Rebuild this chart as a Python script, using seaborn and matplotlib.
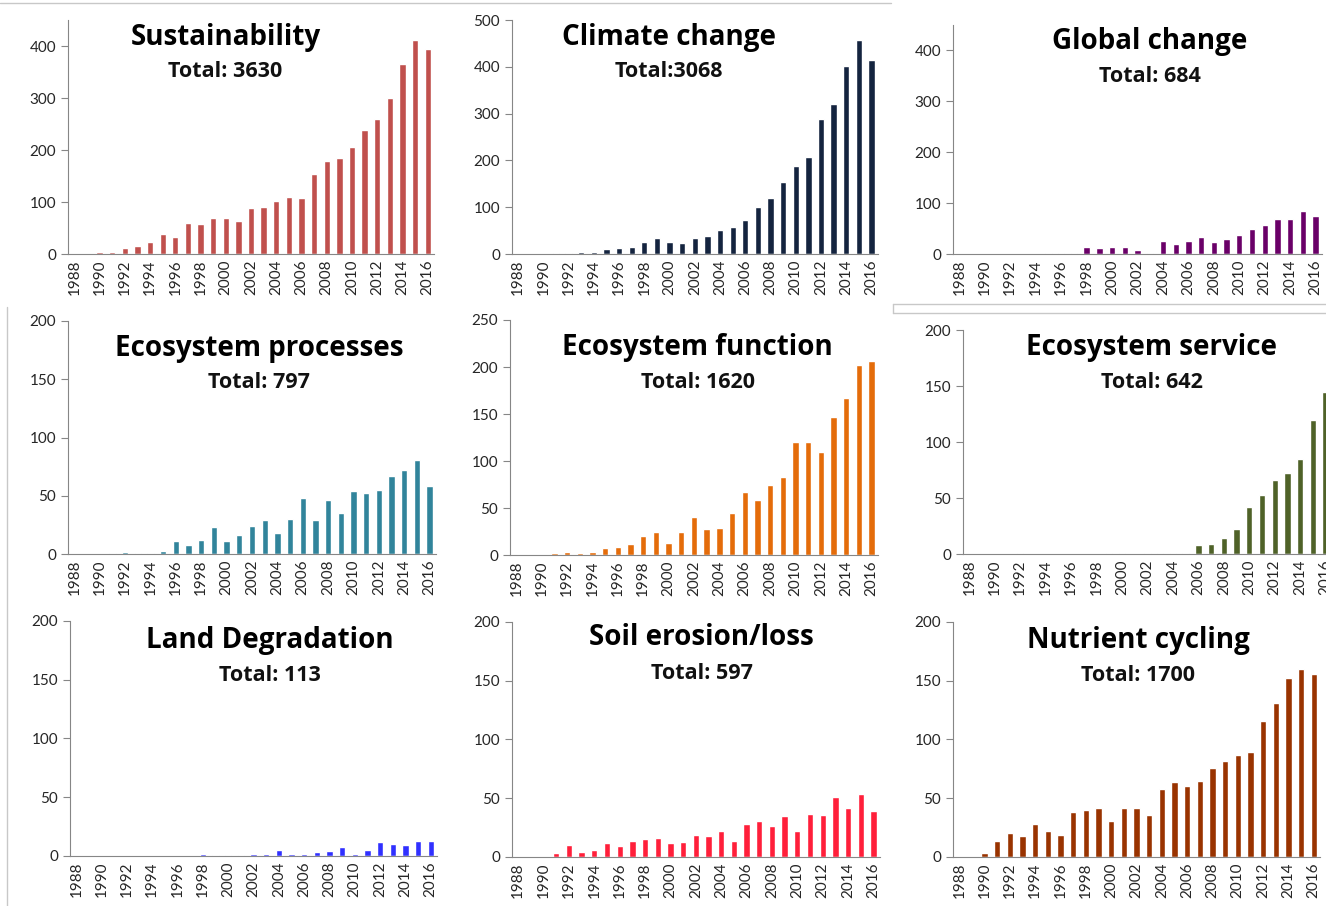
import numpy as np
import matplotlib
matplotlib.use("Agg")
import matplotlib.pyplot as plt
from matplotlib.lines import Line2D
import seaborn as sns

years = [str(y) for y in range(1988, 2017)]

sustainability = [0, 0, 3, 3, 12, 15, 24, 38, 32, 60, 57, 69, 69, 64, 88, 90, 102, 109, 107,
                  154, 178, 185, 206, 239, 260, 300, 365, 412, 395]
climate_change = [0, 0, 0, 3, 3, 5, 5, 10, 13, 15, 26, 34, 26, 24, 34, 39, 52, 57, 73,
                  101, 120, 154, 188, 208, 289, 320, 401, 458, 414]
global_change = [0, 0, 0, 0, 0, 0, 0, 3, 3, 3, 13, 11, 13, 13, 8, 3, 25, 20, 25,
                 33, 23, 30, 38, 50, 57, 69, 69, 84, 74]
eco_processes = [0, 0, 0, 1, 2, 1, 1, 3, 11, 8, 12, 23, 11, 16, 24, 29, 18, 30, 48,
                 29, 46, 35, 54, 52, 55, 67, 72, 81, 58]
eco_function = [0, 0, 0, 2, 3, 2, 3, 7, 8, 12, 20, 25, 13, 24, 40, 28, 29, 45, 67,
                58, 74, 83, 120, 120, 110, 147, 167, 202, 206]
eco_service = [0, 0, 0, 0, 1, 0, 0, 0, 0, 0, 0, 1, 1, 0, 1, 1, 1, 1, 8,
               9, 14, 22, 42, 53, 66, 72, 85, 120, 145]
land_degradation = [0, 0, 0, 0, 0, 0, 0, 0, 0, 0, 2, 1, 1, 1, 2, 2, 5, 2, 2,
                    3, 4, 8, 2, 5, 12, 10, 9, 13, 13]
soil_erosion = [0, 0, 0, 3, 10, 4, 6, 12, 9, 14, 15, 16, 12, 13, 19, 18, 22, 14, 28,
                31, 26, 35, 22, 37, 36, 51, 42, 54, 39]
nutrient_cycling = [0, 0, 3, 14, 20, 18, 28, 22, 19, 38, 40, 42, 31, 42, 42, 36, 58, 64, 60,
                    65, 76, 82, 87, 89, 116, 131, 152, 160, 156]

titles = ["Sustainability", "Climate change", "Global change",
          "Ecosystem processes", "Ecosystem function", "Ecosystem service",
          "Land Degradation", "Soil erosion/loss", "Nutrient cycling"]
totals = ["Total: 3630", "Total:3068", "Total: 684",
          "Total: 797", "Total: 1620", "Total: 642",
          "Total: 113", "Total: 597", "Total: 1700"]
series = [sustainability, climate_change, global_change,
          eco_processes, eco_function, eco_service,
          land_degradation, soil_erosion, nutrient_cycling]

colors = ["#C0504D", "#14243F", "#6A0068",
          "#31849B", "#E46C0A", "#4F6228",
          "#3030FF", "#FF1F3A", "#993300"]
y_max = [450, 500, 450, 200, 250, 200, 200, 200, 200]
y_step = [100, 100, 100, 50, 50, 50, 50, 50, 50]

# axes rectangles (figure fractions) and title anchor points (axes fractions)
positions = [
    (0.0513, 0.7196, 0.2760, 0.2583), (0.3860, 0.7196, 0.2760, 0.2583), (0.7187, 0.7196, 0.2783, 0.2528),
    (0.0513, 0.3885, 0.2775, 0.2572), (0.3846, 0.3874, 0.2775, 0.2594), (0.7262, 0.3885, 0.2783, 0.2472),
    (0.0528, 0.0552, 0.2768, 0.2594), (0.3860, 0.0541, 0.2775, 0.2594), (0.7187, 0.0541, 0.2768, 0.2594),
]
title_pos = [(0.43, 0.927, 0.78), (0.43, 0.927, 0.78), (0.534, 0.926, 0.777),
             (0.52, 0.884, 0.734), (0.51, 0.885, 0.736), (0.512, 0.924, 0.768),
             (0.545, 0.919, 0.77), (0.516, 0.932, 0.779), (0.504, 0.923, 0.774)]

sns.set_style("white")
plt.rcParams['font.family'] = ['Lato', 'DejaVu Sans']

fig = plt.figure(figsize=(13.26, 9.06), dpi=100)

for i in range(9):
    ax = fig.add_axes(positions[i])
    sns.barplot(x=years, y=series[i], ax=ax, color=colors[i], saturation=1, width=0.5)

    ax.set_xlim(-0.5, len(years) - 0.5)
    ax.set_ylim(0, y_max[i])
    ax.set_yticks(np.arange(0, y_max[i] + 1, y_step[i]))

    # labels every other year, tick marks on category borders
    ax.set_xticks(np.arange(0, len(years), 2))
    ax.set_xticklabels(years[::2], rotation=90)
    ax.set_xticks(np.arange(-0.5, len(years), 1), minor=True)
    ax.tick_params(axis='x', which='major', length=0, pad=4, labelsize=11, labelcolor='#262626')
    ax.tick_params(axis='x', which='minor', length=5, width=0.8, color='#868686', direction='out')
    ax.tick_params(axis='y', which='major', length=5, width=0.8, color='#868686',
                   direction='out', labelsize=11, labelcolor='#262626', left=True)

    for side in ['top', 'right']:
        ax.spines[side].set_visible(False)
    for side in ['left', 'bottom']:
        ax.spines[side].set_color('#868686')
        ax.spines[side].set_linewidth(0.8)
    ax.set_xlabel('')
    ax.set_ylabel('')
    ax.grid(False)

    tx, ty1, ty2 = title_pos[i]
    ax.text(tx, ty1, titles[i], transform=ax.transAxes, ha='center', va='center',
            fontsize=20, fontweight='bold', color='black', family=['Open Sans', 'DejaVu Sans'])
    ax.text(tx, ty2, totals[i], transform=ax.transAxes, ha='center', va='center',
            fontsize=15.5, fontweight='bold', color='#111111', family=['Open Sans', 'DejaVu Sans'])

# faint borders left over from the pasted screenshots
line_kw = dict(transform=fig.transFigure, color='#C8C8C8', lw=1)
fig.add_artist(Line2D([0, 0.672], [0.9967, 0.9967], **line_kw))
fig.add_artist(Line2D([0.0053, 0.0053], [0, 0.661], **line_kw))
fig.add_artist(Line2D([0.6735, 1], [0.6645, 0.6645], **line_kw))
fig.add_artist(Line2D([0.6735, 1], [0.6545, 0.6545], **line_kw))
fig.add_artist(Line2D([0.6735, 0.6735], [0.6545, 0.6645], **line_kw))

fig.savefig('out.png', dpi=100)
